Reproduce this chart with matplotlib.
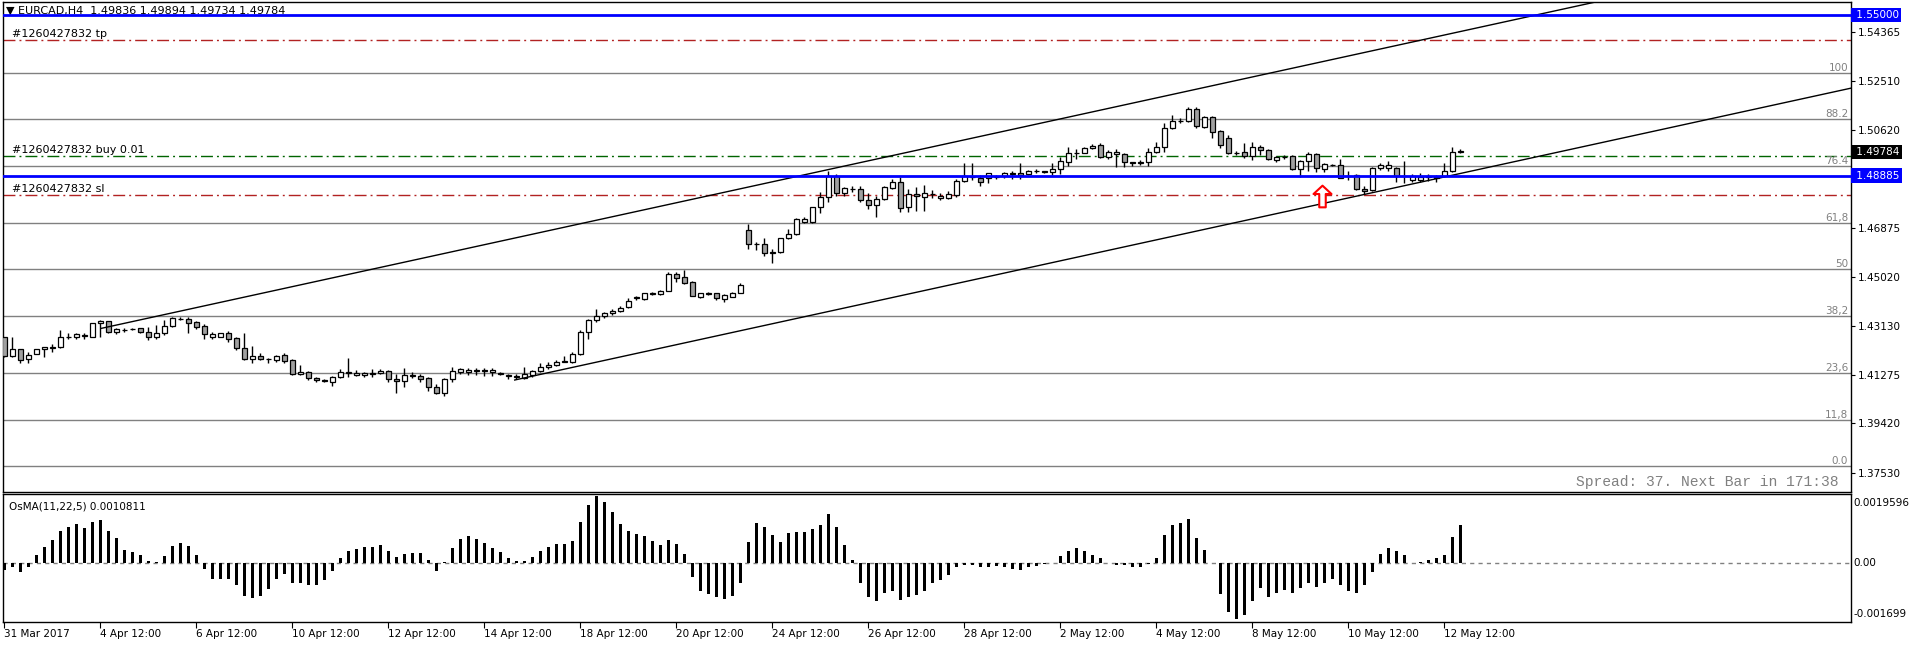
import matplotlib
matplotlib.use('Agg')
import matplotlib.pyplot as plt
import numpy as np
from matplotlib.path import Path
from matplotlib.transforms import blended_transform_factory

# свечи EURCAD H4 (open, high, low, close), по одной на бар
opens = [1.4271, 1.4200, 1.4225, 1.4187, 1.4207, 1.4226, 1.4230, 1.4233, 1.4271, 1.4271,
         1.4275, 1.4274, 1.4325, 1.4332, 1.4293, 1.4300, 1.4303, 1.4305, 1.4293, 1.4271,
         1.4286, 1.4316, 1.4342, 1.4340, 1.4328, 1.4314, 1.4274, 1.4274, 1.4289, 1.4267,
         1.4232, 1.4190, 1.4198, 1.4188, 1.4184, 1.4202, 1.4184, 1.4130, 1.4137, 1.4117,
         1.4109, 1.4102, 1.4118, 1.4136, 1.4127, 1.4126, 1.4132, 1.4134, 1.4142, 1.4112,
         1.4104, 1.4126, 1.4122, 1.4114, 1.4080, 1.4060, 1.4111, 1.4140, 1.4139, 1.4144,
         1.4145, 1.4137, 1.4134, 1.4126, 1.4122, 1.4114, 1.4128, 1.4142, 1.4156, 1.4164,
         1.4181, 1.4178, 1.4206, 1.4290, 1.4337, 1.4351, 1.4362, 1.4370, 1.4386, 1.4420,
         1.4416, 1.4438, 1.4437, 1.4449, 1.4513, 1.4500, 1.4481, 1.4425, 1.4438, 1.4439,
         1.4417, 1.4426, 1.4441, 1.4681, 1.4628, 1.4626, 1.4593, 1.4595, 1.4649, 1.4664,
         1.4712, 1.4712, 1.4767, 1.4805, 1.4887, 1.4821, 1.4839, 1.4836, 1.4795, 1.4775,
         1.4798, 1.4840, 1.4864, 1.4767, 1.4817, 1.4808, 1.4818, 1.4804, 1.4804, 1.4814,
         1.4868, 1.4882, 1.4878, 1.4880, 1.4884, 1.4887, 1.4896, 1.4898, 1.4894, 1.4905,
         1.4904, 1.4903, 1.4912, 1.4941, 1.4975, 1.4976, 1.4992, 1.5005, 1.4961, 1.4971,
         1.4970, 1.4939, 1.4938, 1.4939, 1.4977, 1.4996, 1.5069, 1.5097, 1.5098, 1.5141,
         1.5075, 1.5111, 1.5058, 1.5030, 1.4975, 1.4978, 1.4964, 1.4996, 1.4986, 1.4949,
         1.4960, 1.4963, 1.4912, 1.4944, 1.4969, 1.4912, 1.4929, 1.4927, 1.4887, 1.4892,
         1.4838, 1.4833, 1.4916, 1.4916, 1.4916, 1.4887, 1.4871, 1.4871, 1.4884, 1.4881,
         1.4887, 1.4906, 1.49836]
highs = [1.4274, 1.4271, 1.4228, 1.4216, 1.4226, 1.4235, 1.4244, 1.4299, 1.4289, 1.4289,
         1.4289, 1.4326, 1.4337, 1.4335, 1.4308, 1.4308, 1.4305, 1.4308, 1.4309, 1.4318,
         1.4337, 1.4350, 1.4347, 1.4350, 1.4335, 1.4322, 1.4293, 1.4289, 1.4294, 1.4274,
         1.4289, 1.4238, 1.4210, 1.4192, 1.4204, 1.4212, 1.4188, 1.4164, 1.4144, 1.4121,
         1.4112, 1.4125, 1.4149, 1.4191, 1.4146, 1.4139, 1.4149, 1.4149, 1.4146, 1.4130,
         1.4153, 1.4137, 1.4130, 1.4121, 1.4092, 1.4114, 1.4156, 1.4154, 1.4155, 1.4154,
         1.4153, 1.4153, 1.4137, 1.4130, 1.4131, 1.4156, 1.4146, 1.4172, 1.4177, 1.4184,
         1.4200, 1.4216, 1.4299, 1.4341, 1.4379, 1.4368, 1.4378, 1.4392, 1.4420, 1.4430,
         1.4441, 1.4445, 1.4452, 1.4519, 1.4519, 1.4528, 1.4485, 1.4442, 1.4444, 1.4441,
         1.4435, 1.4445, 1.4478, 1.4703, 1.4636, 1.4651, 1.4608, 1.4651, 1.4683, 1.4725,
         1.4729, 1.4770, 1.4827, 1.4907, 1.4894, 1.4846, 1.4849, 1.4850, 1.4821, 1.4812,
         1.4850, 1.4874, 1.4884, 1.4836, 1.4844, 1.4852, 1.4833, 1.4821, 1.4831, 1.4874,
         1.4938, 1.4938, 1.4891, 1.4900, 1.4891, 1.4902, 1.4906, 1.4935, 1.4910, 1.4912,
         1.4907, 1.4935, 1.4958, 1.4996, 1.4989, 1.4999, 1.5008, 1.5011, 1.4986, 1.4989,
         1.4973, 1.4941, 1.4948, 1.4992, 1.5018, 1.5088, 1.5120, 1.5107, 1.5151, 1.5151,
         1.5116, 1.5116, 1.5062, 1.5045, 1.4982, 1.5011, 1.5018, 1.5005, 1.4988, 1.4963,
         1.4967, 1.4967, 1.4948, 1.4978, 1.4973, 1.4935, 1.4932, 1.4950, 1.4906, 1.4894,
         1.4850, 1.4920, 1.4935, 1.4943, 1.4922, 1.4944, 1.4894, 1.4897, 1.4894, 1.4890,
         1.4938, 1.4996, 1.49894]
lows = [1.4195, 1.4197, 1.4172, 1.4174, 1.4206, 1.4197, 1.4215, 1.4232, 1.4266, 1.4263,
        1.4263, 1.4274, 1.4274, 1.4289, 1.4283, 1.4293, 1.4299, 1.4286, 1.4261, 1.4263,
        1.4280, 1.4312, 1.4337, 1.4289, 1.4304, 1.4266, 1.4263, 1.4271, 1.4254, 1.4223,
        1.4184, 1.4174, 1.4184, 1.4172, 1.4178, 1.4174, 1.4127, 1.4127, 1.4108, 1.4102,
        1.4099, 1.4085, 1.4117, 1.4121, 1.4125, 1.4121, 1.4121, 1.4130, 1.4102, 1.4060,
        1.4083, 1.4114, 1.4102, 1.4067, 1.4053, 1.4048, 1.4102, 1.4130, 1.4128, 1.4128,
        1.4125, 1.4125, 1.4127, 1.4111, 1.4112, 1.4113, 1.4121, 1.4137, 1.4151, 1.4162,
        1.4176, 1.4172, 1.4202, 1.4263, 1.4328, 1.4345, 1.4355, 1.4366, 1.4382, 1.4412,
        1.4414, 1.4432, 1.4433, 1.4446, 1.4483, 1.4474, 1.4428, 1.4422, 1.4433, 1.4415,
        1.4405, 1.4423, 1.4439, 1.4607, 1.4604, 1.4581, 1.4556, 1.4593, 1.4647, 1.4662,
        1.4709, 1.4709, 1.4744, 1.4789, 1.4812, 1.4810, 1.4827, 1.4786, 1.4759, 1.4729,
        1.4795, 1.4836, 1.4750, 1.4750, 1.4754, 1.4754, 1.4801, 1.4795, 1.4799, 1.4808,
        1.4865, 1.4872, 1.4849, 1.4861, 1.4874, 1.4880, 1.4877, 1.4874, 1.4891, 1.4897,
        1.4897, 1.4891, 1.4894, 1.4925, 1.4950, 1.4973, 1.4989, 1.4957, 1.4950, 1.4922,
        1.4922, 1.4925, 1.4929, 1.4925, 1.4973, 1.4980, 1.5065, 1.5088, 1.5094, 1.5069,
        1.5069, 1.5030, 1.4992, 1.4971, 1.4967, 1.4954, 1.4948, 1.4967, 1.4948, 1.4941,
        1.4950, 1.4910, 1.4882, 1.4907, 1.4903, 1.4903, 1.4925, 1.4878, 1.4871, 1.4833,
        1.4818, 1.4831, 1.4910, 1.4907, 1.4865, 1.4861, 1.4865, 1.4865, 1.4869, 1.4865,
        1.4884, 1.4903, 1.49734]
closes = [1.4200, 1.4225, 1.4184, 1.4205, 1.4225, 1.4233, 1.4233, 1.4271, 1.4272, 1.4283,
          1.4281, 1.4325, 1.4332, 1.4293, 1.4302, 1.4299, 1.4302, 1.4293, 1.4274, 1.4286,
          1.4316, 1.4344, 1.4340, 1.4327, 1.4312, 1.4283, 1.4284, 1.4286, 1.4266, 1.4232,
          1.4188, 1.4199, 1.4187, 1.4187, 1.4201, 1.4182, 1.4130, 1.4139, 1.4117, 1.4107,
          1.4104, 1.4118, 1.4137, 1.4137, 1.4135, 1.4134, 1.4134, 1.4142, 1.4111, 1.4104,
          1.4126, 1.4123, 1.4113, 1.4080, 1.4060, 1.4111, 1.4142, 1.4149, 1.4148, 1.4145,
          1.4144, 1.4145, 1.4132, 1.4123, 1.4120, 1.4130, 1.4142, 1.4156, 1.4165, 1.4177,
          1.4178, 1.4207, 1.4291, 1.4337, 1.4351, 1.4362, 1.4370, 1.4384, 1.4410, 1.4423,
          1.4439, 1.4440, 1.4449, 1.4511, 1.4499, 1.4479, 1.4430, 1.4439, 1.4439, 1.4420,
          1.4432, 1.4442, 1.4470, 1.4626, 1.4626, 1.4591, 1.4595, 1.4649, 1.4664, 1.4722,
          1.4722, 1.4767, 1.4805, 1.4887, 1.4821, 1.4840, 1.4838, 1.4795, 1.4775, 1.4798,
          1.4844, 1.4865, 1.4766, 1.4817, 1.4810, 1.4821, 1.4819, 1.4812, 1.4817, 1.4868,
          1.4887, 1.4883, 1.4865, 1.4897, 1.4883, 1.4897, 1.4897, 1.4891, 1.4906, 1.4906,
          1.4903, 1.4912, 1.4944, 1.4973, 1.4976, 1.4992, 1.5003, 1.4961, 1.4977, 1.4977,
          1.4939, 1.4938, 1.4939, 1.4977, 1.4996, 1.5069, 1.5097, 1.5098, 1.5141, 1.5078,
          1.5111, 1.5056, 1.5005, 1.4973, 1.4976, 1.4964, 1.4996, 1.4985, 1.4950, 1.4959,
          1.4961, 1.4912, 1.4943, 1.4969, 1.4916, 1.4931, 1.4930, 1.4881, 1.4885, 1.4838,
          1.4829, 1.4916, 1.4927, 1.4927, 1.4887, 1.4886, 1.4887, 1.4884, 1.4885, 1.4882,
          1.4906, 1.4980, 1.49784]

# OsMA(11,22,5) в единицах 1e-5
osma_e5 = [-22, -12, -27, -12, 21, 44, 65, 90, 102, 109,
           100, 117, 123, 90, 71, 36, 30, 23, 4, 1,
           18, 47, 57, 48, 21, -19, -46, -46, -46, -65,
           -95, -100, -95, -77, -46, -34, -57, -59, -65, -63,
           -50, -24, 13, 33, 39, 44, 44, 50, 33, 16,
           25, 27, 27, 7, -24, 1, 42, 68, 77, 68,
           57, 42, 31, 13, 5, 5, 16, 33, 45, 54,
           54, 62, 115, 165, 190, 172, 144, 110, 90, 83,
           77, 61, 49, 65, 54, 24, -42, -80, -91, -98,
           -105, -95, -58, 60, 113, 102, 78, 60, 85, 88,
           88, 95, 106, 138, 102, 50, 7, -57, -99, -110,
           -88, -81, -106, -99, -92, -81, -57, -50, -35, -14,
           -7, -7, -14, -14, -10, -14, -18, -21, -14, -10,
           -4, 0, 18, 32, 42, 32, 21, 14, 0, -7,
           -7, -14, -14, -4, 14, 78, 106, 113, 124, 71,
           35, 0, -90, -140, -162, -150, -110, -74, -99, -88,
           -78, -88, -74, -57, -71, -57, -46, -64, -81, -88,
           -64, -28, 25, 42, 32, 21, 0, 3, 7, 14,
           21, 74, 108.11]

x_labels = ['31 Mar 2017', '4 Apr 12:00', '6 Apr 12:00', '10 Apr 12:00', '12 Apr 12:00',
            '14 Apr 12:00', '18 Apr 12:00', '20 Apr 12:00', '24 Apr 12:00', '26 Apr 12:00',
            '28 Apr 12:00', '2 May 12:00', '4 May 12:00', '8 May 12:00', '10 May 12:00',
            '12 May 12:00']
price_ticks = [1.54365, 1.52510, 1.50620, 1.46875, 1.45020, 1.43130, 1.41275, 1.39420, 1.37530]

# уровни Фибоначчи
fib_low, fib_high = 1.3780, 1.5281
fib_levels = [0, 11.8, 23.6, 38.2, 50, 61.8, 76.4, 88.2, 100]
fib_texts = ['0.0', '11,8', '23,6', '38,2', '50', '61,8', '76.4', '88.2', '100']

# ордер и линии
blue_levels = [1.55000, 1.48885]
tp_price = 1.5405
buy_price = 1.4962
sl_price = 1.4814
bid = 1.49784
osma_max, osma_min = 0.0019596, -0.001699

# канал: начальная точка (бар, цена) и наклон на бар
upper_start = (12.1, 1.4305)
lower_start = (63.8, 1.4108)
channel_slope = 0.000667

plt.rcParams['font.family'] = 'DejaVu Sans'
plt.rcParams['font.size'] = 7.5

W, H = 1910, 646
fig = plt.figure(figsize=(W / 100, H / 100), dpi=100)
ax = fig.add_axes([3 / W, 1 - 492 / H, 1848 / W, 490 / H])
ax2 = fig.add_axes([3 / W, 1 - 622 / H, 1848 / W, 128 / H])

n = len(closes)
x = np.arange(n)
xmin = -0.1625
xmax = xmin + 1848 / 8
for a in (ax, ax2):
    a.set_xlim(xmin, xmax)
    for s in a.spines.values():
        s.set_color('black')
        s.set_linewidth(1)

ax.set_ylim(1.36805, 1.55510)

# фибо
for lv, t in zip(fib_levels, fib_texts):
    p = fib_low + (fib_high - fib_low) * lv / 100
    ax.axhline(p, color='#808080', lw=1, zorder=1)
    ax.text(0.9984, p, t, transform=blended_transform_factory(ax.transAxes, ax.transData),
            ha='right', va='bottom', color='#808080', fontsize=7.5)

# линии ордера
dashdot = (0, (8.6, 2.9, 1.4, 2.9))
ax.axhline(tp_price, color='#b22222', lw=1, ls=dashdot, zorder=2)
ax.axhline(sl_price, color='#b22222', lw=1, ls=dashdot, zorder=2)
ax.axhline(buy_price, color='#006400', lw=1, ls=dashdot, zorder=2)
for p in blue_levels:
    ax.axhline(p, color='#0000ff', lw=2, zorder=6)

left_tr = blended_transform_factory(ax.transAxes, ax.transData)
ax.text(0.0049, tp_price + 0.0004, '#1260427832 tp', transform=left_tr, va='bottom', fontsize=8)
ax.text(0.0049, buy_price + 0.0004, '#1260427832 buy 0.01', transform=left_tr, va='bottom', fontsize=8)
ax.text(0.0049, sl_price + 0.0004, '#1260427832 sl', transform=left_tr, va='bottom', fontsize=8)

# свечи
o = np.array(opens)
c = np.array(closes)
ax.vlines(x, lows, highs, colors='black', lw=1, zorder=3)
body_low = np.minimum(o, c)
body_h = np.maximum(np.abs(c - o), 0.00002)
faces = ['white' if cc >= oo else '#a0a0a0' for oo, cc in zip(o, c)]
ax.bar(x, body_h, bottom=body_low, width=0.6, color=faces, edgecolor='black',
       linewidth=0.9, zorder=4)

# канал
far = 400
ax.plot([upper_start[0], far], [upper_start[1], upper_start[1] + channel_slope * (far - upper_start[0])],
        color='black', lw=1, zorder=5)
ax.plot([lower_start[0], far], [lower_start[1], lower_start[1] + channel_slope * (far - lower_start[0])],
        color='black', lw=1, zorder=5)

# красная стрелка
verts = [(0, 0.5), (0.415, 0.115), (0.15, 0.115), (0.15, -0.5), (-0.15, -0.5),
         (-0.15, 0.115), (-0.415, 0.115), (0, 0.5)]
codes = [Path.MOVETO] + [Path.LINETO] * 6 + [Path.CLOSEPOLY]
ax.plot([164.7], [1.4809], marker=Path(verts, codes), markersize=15.6,
        mfc='white', mec='red', mew=1.5, zorder=7)

# ось цен справа
ax.yaxis.tick_right()
ax.set_yticks(price_ticks)
ax.set_yticklabels(['%.5f' % p for p in price_ticks])
ax.tick_params(axis='y', direction='out', length=3, pad=2, labelsize=7.5)
ax.set_xticks([])

right_tr = blended_transform_factory(ax.transAxes, ax.transData)
for p, bg in [(1.55000, '#0000ff'), (bid, 'black'), (1.48885, '#0000ff')]:
    ax.text(1.0012, p, ' %.5f' % p, transform=right_tr, ha='left', va='center', color='white',
            fontsize=7.5, clip_on=False, zorder=10,
            bbox=dict(boxstyle='square,pad=0.2', fc=bg, ec='none'))

ax.text(0.0016, 0.982, '\u25bc EURCAD,H4  1.49836 1.49894 1.49734 1.49784', transform=ax.transAxes,
        ha='left', va='center', fontsize=8, zorder=3)
ax.text(0.9935, 0.0204, 'Spread: 37. Next Bar in 171:38', transform=ax.transAxes,
        ha='right', va='center', color='#808080', family='Liberation Mono', fontsize=10.5)

# OsMA
osma = np.array(osma_e5) * 1e-5
ax2.set_ylim(osma_min, osma_max)
ax2.axhline(0, color='#808080', lw=1, ls=(0, (3, 3)), zorder=1)
ax2.bar(x, osma, width=0.32, color='black', zorder=2)
ax2.set_yticks([])
ax2.set_xticks(np.arange(0, 181, 12))
ax2.set_xticklabels(x_labels)
ax2.tick_params(axis='x', direction='out', length=4, pad=1, labelsize=7.5)
for lab in ax2.get_xticklabels():
    lab.set_ha('left')
ax2.text(0.003, 0.9, 'OsMA(11,22,5) 0.0010811', transform=ax2.transAxes, ha='left', va='center',
         fontsize=7.5)
ax2.text(1.0012, 0.93, '0.0019596', transform=ax2.transAxes, ha='left', va='center', clip_on=False)
ax2.text(1.0012, 0.0, '0.00', transform=blended_transform_factory(ax2.transAxes, ax2.transData),
         ha='left', va='center', clip_on=False)
ax2.text(1.0012, 0.06, '-0.001699', transform=ax2.transAxes, ha='left', va='center', clip_on=False)

fig.savefig('out.png', dpi=100)
